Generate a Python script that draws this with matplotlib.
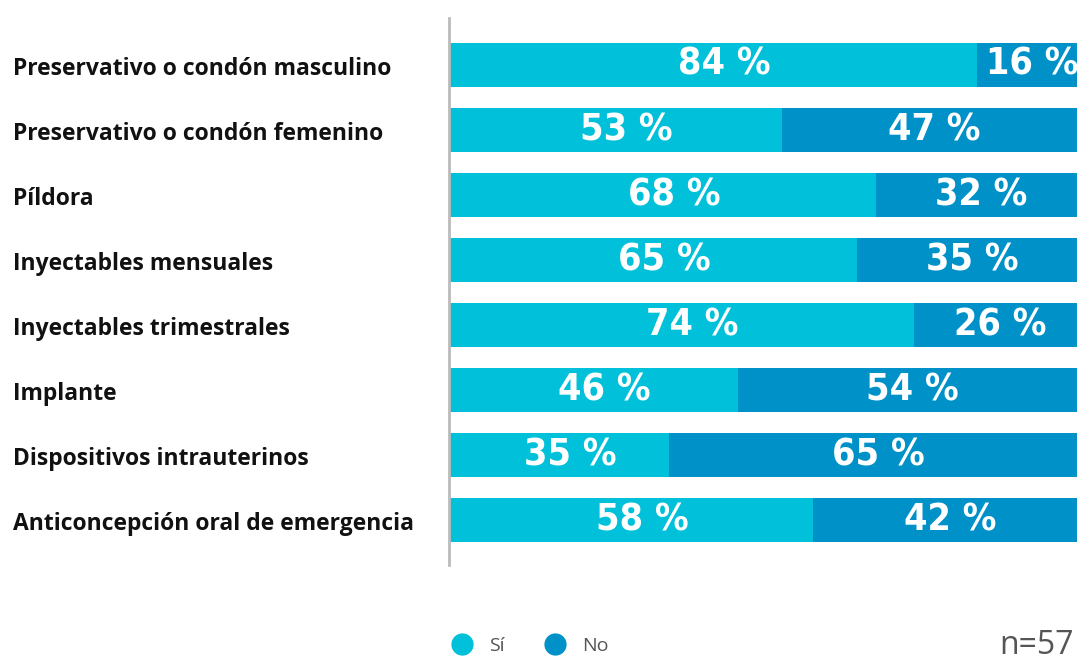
import numpy as np
import matplotlib.pyplot as plt
from matplotlib.lines import Line2D

# data
metodos = ['Preservativo o condón masculino', 'Preservativo o condón femenino', 'Píldora',
           'Inyectables mensuales', 'Inyectables trimestrales', 'Implante',
           'Dispositivos intrauterinos', 'Anticoncepción oral de emergencia']
si = [84, 53, 68, 65, 74, 46, 35, 58]
no = [16, 47, 32, 35, 26, 54, 65, 42]

c_si = '#00c1d9'
c_no = '#0091c9'

fig = plt.figure(figsize=(10.77, 6.61), dpi=100)
ax = fig.add_axes([449/1077, 1-565/661, 1-449/1077, (565-18)/661])

y = np.arange(len(metodos))
ax.barh(y, si, height=0.677, color=c_si)
ax.barh(y, no, left=si, height=0.677, color=c_no)

lab_font = dict(color='white', fontsize=27, fontweight='bold', fontstretch='condensed',
                family=['DejaVu Sans'])
for i in range(len(metodos)):
    ax.text(si[i]/2 + 1.8, y[i], f'{si[i]} %', ha='center', va='center', **lab_font)
    ax.text(si[i] + no[i]/2 + 0.8, y[i], f'{no[i]} %', ha='center', va='center', **lab_font)
    ax.text(-0.695, y[i] + 0.06, metodos[i], transform=ax.get_yaxis_transform(),
            ha='left', va='center', fontsize=16.5, fontweight='bold',
            family='Open Sans', color='#111111')

ax.set_xlim(0, 100)
ax.set_ylim(len(metodos) - 1 + 0.692, -0.723)
ax.set_xticks([])
ax.set_yticks([])
for s in ['top', 'right', 'bottom']:
    ax.spines[s].set_visible(False)
ax.spines['left'].set_color('#bbbbbb')
ax.spines['left'].set_linewidth(2)

# legend
handles = [Line2D([], [], marker='o', ls='', markersize=15, color=c_si),
           Line2D([], [], marker='o', ls='', markersize=15, color=c_no)]
leg = fig.legend(handles, ['Sí', 'No'], loc='center left', bbox_to_anchor=(425/1077, 1-646/661),
                 ncol=2, frameon=False, handletextpad=0.4, columnspacing=1.6,
                 prop={'family': 'Open Sans', 'size': 14})
for t in leg.get_texts():
    t.set_color('#555555')

fig.text(1074/1077, 1-646/661, 'n=57', fontsize=23, color='#555555', va='center', ha='right',
         family='Open Sans')

plt.savefig('out.png', dpi=100)
